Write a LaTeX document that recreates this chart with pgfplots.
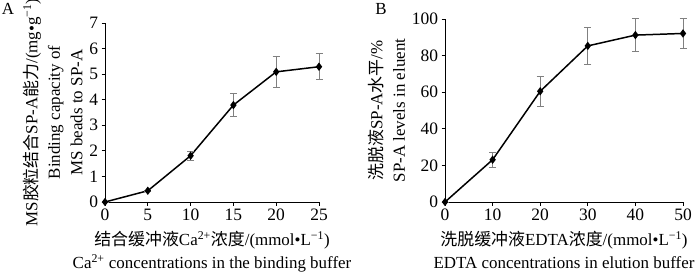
\documentclass[border=0pt]{standalone}
\usepackage{fontspec}
\setmainfont{Liberation Serif}
\newfontfamily\cjk{Noto Sans CJK SC}
\usepackage{pgfplots}
\pgfplotsset{compat=1.18}
\pgfplotsset{mystyle/.style={
  scale only axis,
  axis lines=left,
  axis line style={-, line width=0.8pt},
  tick align=outside,
  major tick length=3.5bp,
  tick style={black, line width=0.8pt},
  ticklabel style={font=\fontsize{17.5}{17.5}\selectfont},
  label style={font=\fontsize{17}{22.5}\selectfont, align=center},
  xlabel style={yshift=-4bp},
  /pgf/number format/assume math mode=true,
  enlargelimits=false,
  clip=false,
  anchor=south west,
}}
\pgfplotsset{myplot/.style={black, line width=1.5pt, mark=diamond*, mark size=3pt, mark options={black, solid},
  error bars/.cd, y dir=both, y explicit,
  error bar style={gray, line width=0.7pt},
  error mark options={gray, rotate=90, mark size=3.5bp, line width=0.7pt}}}
\begin{document}
\begin{tikzpicture}
\useasboundingbox (0,0) rectangle (700bp,274bp);
\begin{axis}[mystyle, at={(105bp,72bp)}, width=214bp, height=179bp,
  xmin=0, xmax=25, ymin=0, ymax=7,
  xtick={0,5,10,15,20,25}, ytick={0,1,2,3,4,5,6,7},
  xlabel={{\cjk 结合缓冲液}Ca\textsuperscript{2+}{\cjk 浓度}/(mmol•L\textsuperscript{−1})\\Ca\textsuperscript{2+} concentrations in the binding buffer},
  ylabel={MS{\cjk 胶粒结合}SP-A{\cjk 能力}/(mg•g\textsuperscript{−1})\\Binding capacity of\\MS beads to SP-A}]
\addplot[myplot] coordinates {
  (0,0) +- (0,0)
  (5,0.44) +- (0,0.03)
  (10,1.81) +- (0,0.18)
  (15,3.79) +- (0,0.45)
  (20,5.09) +- (0,0.59)
  (25,5.29) +- (0,0.51)
};
\end{axis}
\begin{axis}[mystyle, at={(445bp,72bp)}, width=238bp, height=183bp,
  xmin=0, xmax=50, ymin=0, ymax=100,
  xtick={0,10,20,30,40,50}, ytick={0,20,40,60,80,100},
  xlabel={{\cjk 洗脱缓冲液}EDTA{\cjk 浓度}/(mmol•L\textsuperscript{−1})\\EDTA concentrations in elution buffer},
  ylabel={{\cjk 洗脱液}SP-A{\cjk 水平}/\%\\SP-A levels in eluent}]
\addplot[myplot] coordinates {
  (0,0) +- (0,0)
  (10,23.1) +- (0,4.2)
  (20,60.5) +- (0,8.1)
  (30,85.3) +- (0,10.0)
  (40,91.2) +- (0,9.0)
  (50,92.1) +- (0,8.0)
};
\end{axis}
\node[font=\fontsize{17}{17}\selectfont] at (8bp,265bp) {A};
\node[font=\fontsize{17}{17}\selectfont] at (381bp,265bp) {B};
\end{tikzpicture}
\end{document}
